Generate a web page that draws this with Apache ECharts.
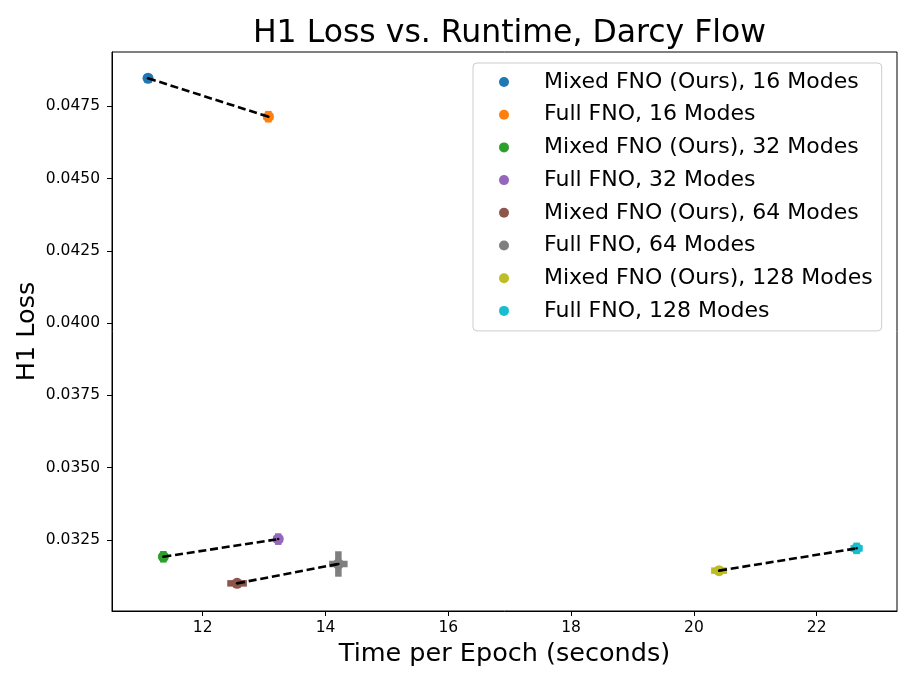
<!DOCTYPE html>
<html>
<head>
<meta charset="utf-8">
<script src="https://cdn.jsdelivr.net/npm/echarts@6/dist/echarts.min.js"></script>
<style>html,body{margin:0;padding:0;background:#fff}#chart{width:914px;height:685px}</style>
</head>
<body>
<div id="chart"></div>
<script>
// ---- data ----
const modes = [16, 32, 64, 128];
const mixedTime = [11.11, 11.36, 12.56, 20.41];
const mixedLoss = [0.04847, 0.03192, 0.03100, 0.03144];
const mixedTimeErr = [0.0, 0.07, 0.16, 0.13];
const mixedLossErr = [0.0, 0.0002, 0.0001, 0.0001];
const fullTime = [13.07, 13.23, 14.21, 22.65];
const fullLoss = [0.04714, 0.03253, 0.03167, 0.03221];
const fullTimeErr = [0.08, 0.08, 0.15, 0.10];
const fullLossErr = [0.0002, 0.0002, 0.00044, 0.0002];
const mixedColors = ['#1f77b4', '#2ca02c', '#8c564b', '#bcbd22'];
const fullColors = ['#ff7f0e', '#9467bd', '#7f7f7f', '#17becf'];
const xTicks = [12, 14, 16, 18, 20, 22];
const yTicks = [0.0325, 0.0350, 0.0375, 0.0400, 0.0425, 0.0450, 0.0475];

const FONT = 'DejaVu Sans';
const series = [];
const legendNames = [];
const errData = [];
modes.forEach((m, i) => {
  const mName = 'Mixed FNO (Ours), ' + m + ' Modes';
  const fName = 'Full FNO, ' + m + ' Modes';
  legendNames.push(mName, fName);
  errData.push([mixedTime[i], mixedLoss[i], mixedTimeErr[i], mixedLossErr[i], mixedColors[i]]);
  errData.push([fullTime[i], fullLoss[i], fullTimeErr[i], fullLossErr[i], fullColors[i]]);
  series.push({
    name: mName, type: 'scatter', symbol: 'circle', symbolSize: 11, z: 3,
    itemStyle: { color: mixedColors[i], opacity: 1 },
    data: [[mixedTime[i], mixedLoss[i]]]
  });
  series.push({
    name: fName, type: 'scatter', symbol: 'circle', symbolSize: 11, z: 3,
    itemStyle: { color: fullColors[i], opacity: 1 },
    data: [[fullTime[i], fullLoss[i]]]
  });
  series.push({
    name: 'pair' + m, type: 'line', z: 5, silent: true,
    symbol: 'circle', symbolSize: 2.5, showSymbol: true,
    itemStyle: { color: '#000' },
    lineStyle: { color: '#000', width: 2.6, type: [8, 3.8] },
    data: [[mixedTime[i], mixedLoss[i]], [fullTime[i], fullLoss[i]]]
  });
});
series.push({
  name: 'errorbars', type: 'custom', z: 2, silent: true,
  encode: { x: 0, y: 1 },
  renderItem: function (params, api) {
    const x = api.value(0), y = api.value(1), xe = api.value(2), ye = api.value(3);
    const c = errData[params.dataIndex][4];
    const a = api.coord([x - xe, y]), b = api.coord([x + xe, y]);
    const u = api.coord([x, y + ye]), d = api.coord([x, y - ye]);
    return {
      type: 'group',
      children: [
        { type: 'line', shape: { x1: a[0], y1: a[1], x2: b[0], y2: b[1] }, style: { stroke: c, lineWidth: 6.5 } },
        { type: 'line', shape: { x1: u[0], y1: u[1], x2: d[0], y2: d[1] }, style: { stroke: c, lineWidth: 6.5 } }
      ]
    };
  },
  data: errData.map(r => [r[0], r[1], r[2], r[3]])
});

const chart = echarts.init(document.getElementById('chart'), null, { renderer: 'canvas' });
chart.setOption({
  animation: false,
  backgroundColor: '#fff',
  textStyle: { fontFamily: FONT },
  title: {
    text: 'H1 Loss vs. Runtime, Darcy Flow',
    left: 504.5, textAlign: 'center', top: 13,
    textStyle: { fontFamily: FONT, fontSize: 31.5, fontWeight: 'normal', color: '#000' }
  },
  grid: { left: 112, right: 17, top: 52, bottom: 74, show: true, borderColor: '#000', borderWidth: 1, containLabel: false },
  legend: {
    data: legendNames, orient: 'vertical', left: 473, top: 63,
    padding: [8, 9, 9, 26], itemGap: 10.7,
    icon: 'circle', itemWidth: 10, itemHeight: 10,
    backgroundColor: '#fff', borderColor: '#cccccc', borderWidth: 1, borderRadius: 4,
    textStyle: { fontFamily: FONT, fontSize: 22, color: '#000', padding: [0, 0, 0, 30] },
    selectedMode: false
  },
  xAxis: {
    type: 'value', min: 10.523, max: 23.308,
    name: 'Time per Epoch (seconds)', nameLocation: 'middle', nameGap: 30, nameMoveOverlap: false,
    nameTextStyle: { fontFamily: FONT, fontSize: 25.5, color: '#000' },
    axisLine: { show: true, onZero: false, lineStyle: { color: '#000', width: 1 } },
    axisTick: { show: true, length: 5, customValues: xTicks, lineStyle: { color: '#000' } },
    axisLabel: { customValues: xTicks, margin: 9, fontFamily: FONT, fontSize: 15.5, color: '#000' },
    splitLine: { show: false }
  },
  yAxis: {
    type: 'value', min: 0.030044, max: 0.049378,
    name: 'H1 Loss', nameLocation: 'middle', nameGap: 72, nameMoveOverlap: false,
    nameTextStyle: { fontFamily: FONT, fontSize: 25.5, color: '#000' },
    axisLine: { show: true, onZero: false, lineStyle: { color: '#000', width: 1 } },
    axisTick: { show: true, length: 5, customValues: yTicks, lineStyle: { color: '#000' } },
    axisLabel: { customValues: yTicks, margin: 12, fontFamily: FONT, fontSize: 15.5, color: '#000',
      formatter: v => v.toFixed(4) },
    splitLine: { show: false }
  },
  series: series
});
</script>
</body>
</html>
